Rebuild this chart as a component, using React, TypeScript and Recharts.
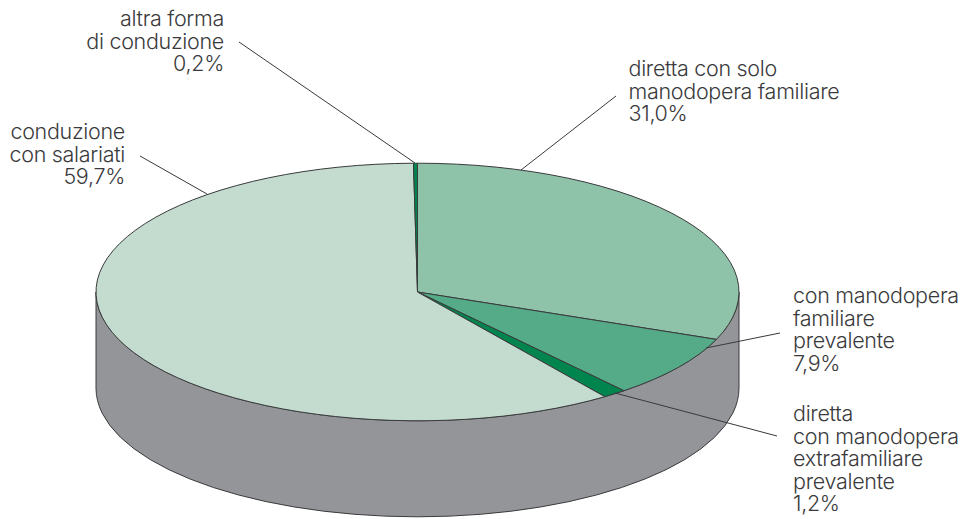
import { PieChart, Pie, Cell } from 'recharts';

const names = [
  'diretta con solo manodopera familiare',
  'con manodopera familiare prevalente',
  'diretta con manodopera extrafamiliare prevalente',
  'conduzione con salariati',
  'altra forma di conduzione',
];
const values = [31.0, 7.9, 1.2, 59.7, 0.2];
const colors = ['#8EC2A9', '#55AB88', '#00854F', '#C3DCCF', '#00854F'];
const labelLines = [
  ['diretta con solo', 'manodopera familiare', '31,0%'],
  ['con manodopera', 'familiare', 'prevalente', '7,9%'],
  ['diretta', 'con manodopera', 'extrafamiliare', 'prevalente', '1,2%'],
  ['conduzione', 'con salariati', '59,7%'],
  ['altra forma', 'di conduzione', '0,2%'],
];

const chartData = names.map((name, i) => ({ name, value: values[i] }));
const wallData = [{ name: 'wall', value: 100 }];

const CX = 417.5;
const CY = 292;
const RX = 321.5;
const TILT = 129 / 322;
const DEPTH = 96;
const INK = '#3a3a3c';
const FONT = 'Inter, sans-serif';

// label anchor + leader line for each slice, same order as the data
const labelPos = [
  { x: 628.5, y: 76, anchor: 'start', line: [616, 96, 521, 170] },
  { x: 793, y: 303, anchor: 'start', line: [780, 333, 706, 348] },
  { x: 793, y: 421, anchor: 'start', line: [777, 436, 615, 393] },
  { x: 125, y: 139, anchor: 'end', line: [140, 156, 207, 194] },
  { x: 224, y: 26, anchor: 'end', line: [239, 42, 415, 163] },
];
const LINE_H = 22.6;

// recharts only knows circles, so squash the sector into an ellipse
function TopSlice(props: any) {
  const { cx, cy, outerRadius: r, startAngle, endAngle, fill } = props;
  const ry = r * TILT;
  const rad = Math.PI / 180;
  const x1 = cx + r * Math.cos(startAngle * rad);
  const y1 = cy - ry * Math.sin(startAngle * rad);
  const x2 = cx + r * Math.cos(endAngle * rad);
  const y2 = cy - ry * Math.sin(endAngle * rad);
  const large = Math.abs(startAngle - endAngle) > 180 ? 1 : 0;
  const d = `M${cx},${cy} L${x1},${y1} A${r},${ry} 0 ${large} 1 ${x2},${y2} Z`;
  return <path d={d} fill={fill} stroke={INK} strokeWidth={1} strokeLinejoin="round" />;
}

function Wall(props: any) {
  const { cx, cy, outerRadius: r } = props;
  const ry = r * TILT;
  const d = `M${cx - r},${cy} A${r},${ry} 0 0 0 ${cx + r},${cy} V${cy + DEPTH} A${r},${ry} 0 0 1 ${cx - r},${cy + DEPTH} Z`;
  return <path d={d} fill="#939598" stroke={INK} strokeWidth={1} />;
}

function renderLabel({ index }: any) {
  const pos = labelPos[index];
  const [x1, y1, x2, y2] = pos.line;
  return (
    <g key={index}>
      <line x1={x1} y1={y1} x2={x2} y2={y2} stroke={INK} strokeWidth={1} />
      <text x={pos.x} y={pos.y} textAnchor={pos.anchor as any} fill={INK} fontFamily={FONT} fontWeight={300} fontSize={21.5} letterSpacing={-0.3}>
        {labelLines[index].map((t, i) => (
          <tspan key={i} x={pos.x} y={pos.y + i * LINE_H}>{t}</tspan>
        ))}
      </text>
    </g>
  );
}

export default function App() {
  return (
    <div style={{ position: 'absolute', left: 0, top: 0, width: 964, height: 519, background: '#fff' }}>
      <PieChart width={964} height={519} margin={{ top: 0, right: 0, bottom: 0, left: 0 }}>
        <Pie
          data={wallData}
          dataKey="value"
          cx={CX}
          cy={CY}
          outerRadius={RX}
          startAngle={90}
          endAngle={-270}
          shape={Wall}
          isAnimationActive={false}
          legendType="none"
        />
        <Pie
          data={chartData}
          dataKey="value"
          nameKey="name"
          cx={CX}
          cy={CY}
          outerRadius={RX}
          startAngle={90}
          endAngle={-270}
          shape={TopSlice}
          label={renderLabel}
          labelLine={false}
          isAnimationActive={false}
        >
          {chartData.map((_, i) => (
            <Cell key={i} fill={colors[i]} />
          ))}
        </Pie>
      </PieChart>
    </div>
  );
}
